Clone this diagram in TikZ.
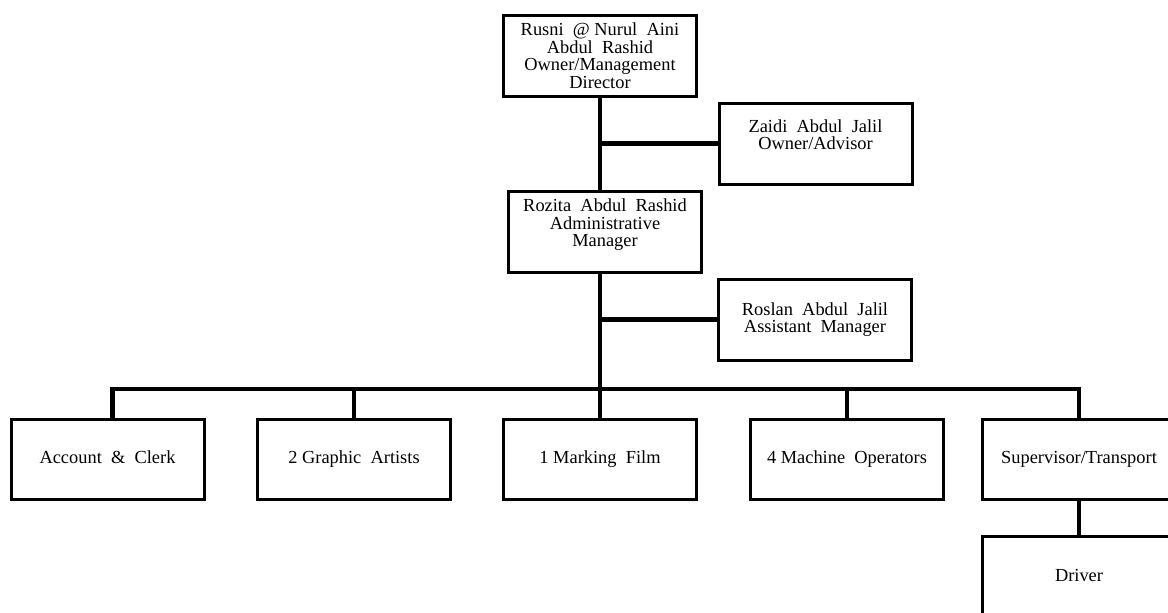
\documentclass[tikz,border=0pt]{standalone}
\usepackage{fontspec}
\setmainfont{Liberation Serif}
\begin{document}
\begin{tikzpicture}[x=0.5pt, y=-0.5pt, line join=miter, font=\fontsize{9.2}{8.8}\selectfont]
	\tikzset{box/.style={draw, line width=1.5pt, minimum width=96.5pt, minimum height=40.5pt, align=center, inner sep=0pt},
		staff/.style={box, minimum height=40pt, text height=6.5pt, text depth=2pt},
		link/.style={line width=2.3pt}}
	\useasboundingbox (0,0) rectangle (1168,612);
	% top of the chart
	\node[box] (owner) at (600,55.5) {Rusni \ @ Nurul \ Aini\\Abdul \ Rashid\\Owner/Management\\Director};
	\node[box] (advisor) at (815.5,143.5) {Zaidi \ Abdul \ Jalil\\Owner/Advisor\\\mbox{}};
	\node[box] (admin) at (605,231.5) {Rozita \ Abdul \ Rashid\\Administrative\\Manager\\\mbox{}};
	\node[box] (assist) at (815,319.5) {Roslan \ Abdul \ Jalil\\Assistant \ Manager};
	% staff row
	\node[staff] (account) at (107.5,459) {Account \ \& \ Clerk};
	\node[staff] (graphic) at (354,459) {2 Graphic \ Artists};
	\node[staff] (film) at (600,459) {1 Marking \ Film};
	\node[staff] (machine) at (847,459) {4 Machine \ Operators};
	\node[staff] (super) at (1079,459) {Supervisor/Transport};
	\node[staff, minimum height=41pt] (driver) at (1079,577) {Driver};
	\coordinate (bus) at (600,389);
	% connectors
	\draw[link] (owner.south) -- (owner.south |- admin.north);
	\draw[link] (advisor.west) -- (advisor.west -| owner);
	\draw[link] (admin.south -| owner) -- (bus);
	\draw[link] (assist.west) -- (assist.west -| owner);
	\draw[link] ([xshift=2.5pt]account.north) |- (bus) -| (super.north);
	\draw[link] (graphic.north) -- (graphic.north |- bus);
	\draw[link] (film.north) -- (bus);
	\draw[link] (machine.north) -- (machine.north |- bus);
	\draw[link] (super.south) -- (driver.north);
\end{tikzpicture}
\end{document}
